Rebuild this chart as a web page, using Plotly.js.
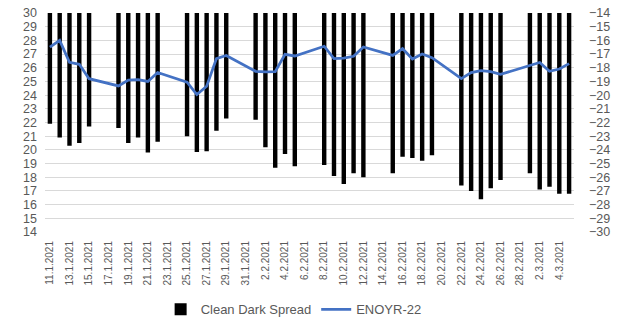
<!DOCTYPE html>
<html>
<head>
<meta charset="utf-8">
<script src="https://cdn.plot.ly/plotly-3.0.1.min.js"></script>
<style>html,body{margin:0;padding:0;background:#fff;}#chart{width:637px;height:318px;}</style>
</head>
<body>
<div id="chart"></div>
<script>
// All calendar days on the category axis (weekends included, no data)
const allDays = [
  "11.1.2021","12.1.2021","13.1.2021","14.1.2021","15.1.2021","16.1.2021","17.1.2021",
  "18.1.2021","19.1.2021","20.1.2021","21.1.2021","22.1.2021","23.1.2021","24.1.2021",
  "25.1.2021","26.1.2021","27.1.2021","28.1.2021","29.1.2021","30.1.2021","31.1.2021",
  "1.2.2021","2.2.2021","3.2.2021","4.2.2021","5.2.2021","6.2.2021","7.2.2021",
  "8.2.2021","9.2.2021","10.2.2021","11.2.2021","12.2.2021","13.2.2021","14.2.2021",
  "15.2.2021","16.2.2021","17.2.2021","18.2.2021","19.2.2021","20.2.2021","21.2.2021",
  "22.2.2021","23.2.2021","24.2.2021","25.2.2021","26.2.2021","27.2.2021","28.2.2021",
  "1.3.2021","2.3.2021","3.3.2021","4.3.2021","5.3.2021"
];
const tickLabels = [
  "11.1.2021","13.1.2021","15.1.2021","17.1.2021","19.1.2021","21.1.2021","23.1.2021",
  "25.1.2021","27.1.2021","29.1.2021","31.1.2021","2.2.2021","4.2.2021","6.2.2021",
  "8.2.2021","10.2.2021","12.2.2021","14.2.2021","16.2.2021","18.2.2021","20.2.2021",
  "22.2.2021","24.2.2021","26.2.2021","28.2.2021","2.3.2021","4.3.2021"
];
// Trading days with data
const tradeDays = [
  "11.1.2021","12.1.2021","13.1.2021","14.1.2021","15.1.2021",
  "18.1.2021","19.1.2021","20.1.2021","21.1.2021","22.1.2021",
  "25.1.2021","26.1.2021","27.1.2021","28.1.2021","29.1.2021",
  "1.2.2021","2.2.2021","3.2.2021","4.2.2021","5.2.2021",
  "8.2.2021","9.2.2021","10.2.2021","11.2.2021","12.2.2021",
  "15.2.2021","16.2.2021","17.2.2021","18.2.2021","19.2.2021",
  "22.2.2021","23.2.2021","24.2.2021","25.2.2021","26.2.2021",
  "1.3.2021","2.3.2021","3.3.2021","4.3.2021","5.3.2021"
];
const cleanDarkSpread = [
  -22.1,-23.1,-23.7,-23.5,-22.3,
  -22.4,-23.5,-23.1,-24.2,-23.4,
  -23.0,-24.15,-24.1,-22.6,-21.7,
  -21.8,-23.8,-25.3,-24.3,-25.2,
  -25.1,-25.9,-26.5,-25.7,-26.0,
  -25.7,-24.5,-24.6,-24.8,-24.4,
  -26.6,-27.0,-27.6,-26.8,-26.2,
  -25.7,-26.9,-26.7,-27.2,-27.2
];
const enoyr22 = [
  27.5,28.0,26.4,26.25,25.2,
  24.67,25.1,25.13,25.0,25.65,
  24.94,24.04,24.65,26.67,26.9,
  25.74,25.7,25.72,26.98,26.86,
  27.57,26.67,26.7,26.84,27.52,
  26.9,27.4,26.64,27.0,26.74,
  25.2,25.65,25.79,25.72,25.52,
  26.13,26.38,25.74,25.91,26.3
];

const font = "'Liberation Sans', Arial, sans-serif";
const grey = "#595959";

const data = [
  {
    type: "bar", name: "Clean Dark Spread",
    x: tradeDays, y: cleanDarkSpread,
    xaxis: "x", yaxis: "y",
    marker: {color: "#000000"}
  },
  {
    type: "scatter", mode: "lines", name: "ENOYR-22",
    x: tradeDays, y: enoyr22,
    xaxis: "x", yaxis: "y2",
    line: {color: "#4472C4", width: 2.75}
  }
];

const layout = {
  width: 637, height: 318,
  margin: {l: 45, r: 63, t: 13, b: 86, autoexpand: false},
  paper_bgcolor: "#ffffff", plot_bgcolor: "#ffffff",
  font: {family: font, color: grey, size: 13},
  bargap: 0.55,
  showlegend: true,
  legend: {
    orientation: "h", x: 0.47, xanchor: "center", y: -0.353, yanchor: "middle",
    font: {family: font, size: 13, color: grey}, traceorder: "normal"
  },
  xaxis: {
    type: "category", categoryorder: "array", categoryarray: allDays,
    range: [-0.5, allDays.length - 0.5],
    tickmode: "array", tickvals: tickLabels, ticktext: tickLabels,
    tickangle: -90, tickfont: {family: font, size: 10, color: grey},
    showgrid: false, zeroline: false, showline: false, ticks: "",
    ticklabelstandoff: 6, automargin: false
  },
  yaxis: {
    side: "right", range: [-30, -14], dtick: 1, tick0: -30,
    showgrid: true, gridcolor: "#d9d9d9", gridwidth: 1,
    zeroline: false, showline: false, ticks: "",
    tickfont: {family: font, size: 12.5, color: grey},
    ticklabelstandoff: 14, automargin: false
  },
  yaxis2: {
    overlaying: "y", side: "left", range: [14, 30], dtick: 1, tick0: 14,
    showgrid: false, zeroline: false, showline: false, ticks: "",
    tickfont: {family: font, size: 12.5, color: grey},
    ticklabelstandoff: 7, automargin: false
  }
};

Plotly.newPlot("chart", data, layout, {displayModeBar: false, staticPlot: true});
</script>
</body>
</html>
